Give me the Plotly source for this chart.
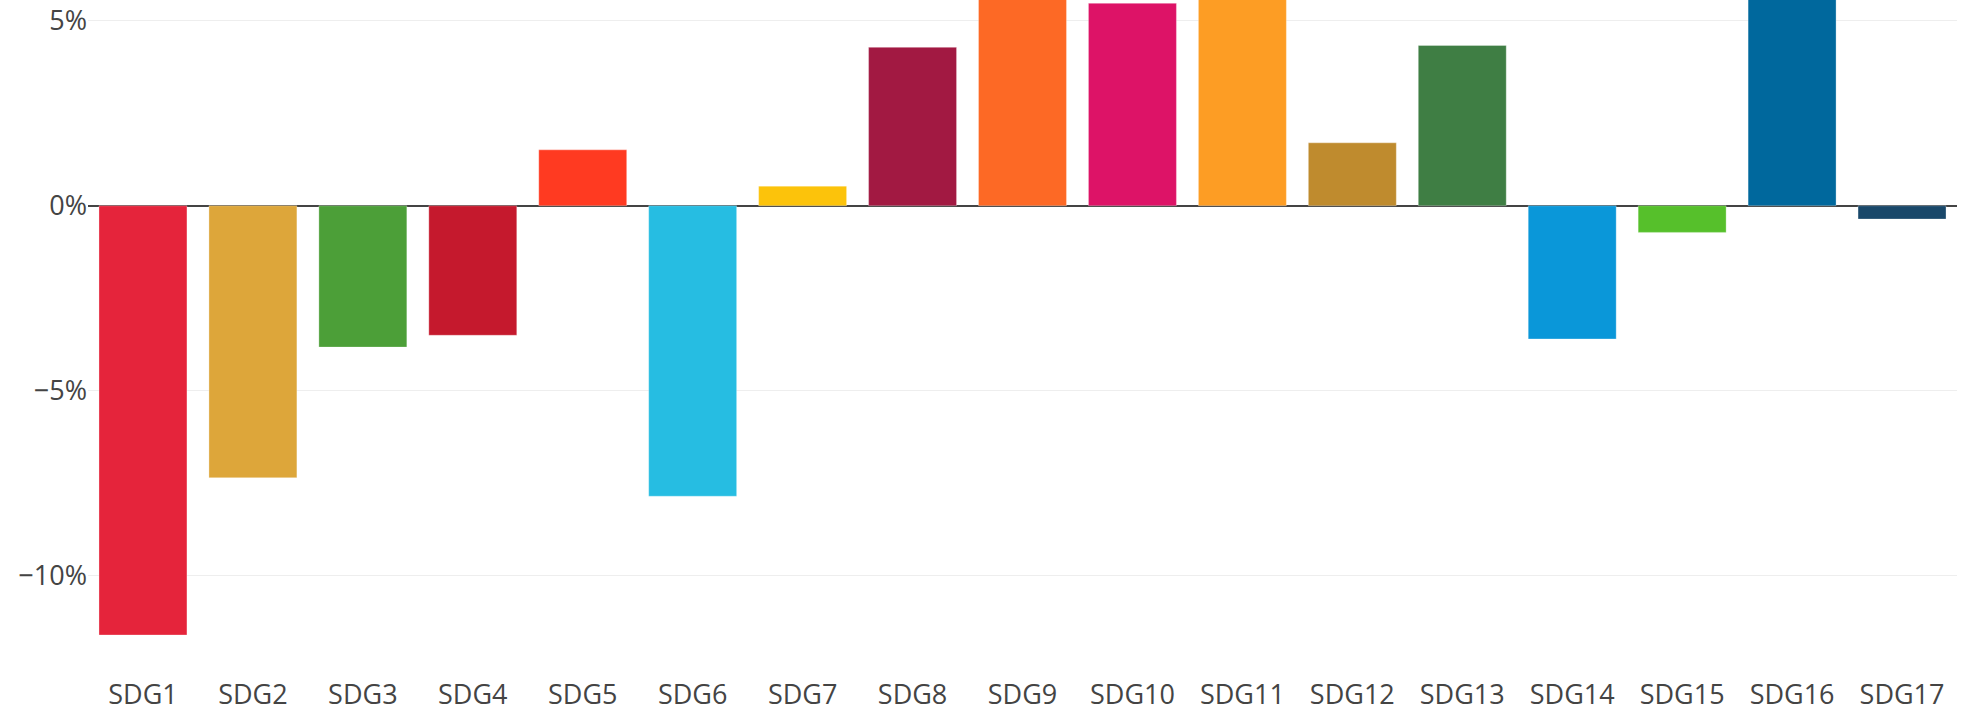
import plotly.graph_objects as go

categories = ["SDG1", "SDG2", "SDG3", "SDG4", "SDG5", "SDG6", "SDG7", "SDG8", "SDG9",
              "SDG10", "SDG11", "SDG12", "SDG13", "SDG14", "SDG15", "SDG16", "SDG17"]
values = [-11.6, -7.35, -3.82, -3.5, 1.51, -7.85, 0.53, 4.28, 7.2,
          5.47, 6.4, 1.7, 4.33, -3.6, -0.72, 8.0, -0.36]
colors = ["#E5243B", "#DDA63A", "#4C9F38", "#C5192D", "#FF3A21", "#26BDE2", "#FCC30B",
          "#A21942", "#FD6925", "#DD1367", "#FD9D24", "#BF8B2E", "#3F7E44", "#0A97D9",
          "#56C02B", "#00689D", "#19486A"]
y_range = [-12.6, 5.56]

fig = go.Figure(go.Bar(
    x=categories, y=values,
    marker=dict(color=colors, line=dict(width=0.6, color="rgba(255,255,255,0.5)")),
    width=0.8,
    hoverinfo="x+y",
))

fig.update_layout(
    template="none",
    width=1964, height=712,
    margin=dict(l=88, r=7, t=0, b=40),
    paper_bgcolor="white", plot_bgcolor="white",
    font=dict(family="Open Sans", size=27, color="#444"),
    showlegend=False,
    bargap=0.2,
    xaxis=dict(showgrid=False, zeroline=False, showline=False, ticks="", automargin=False,
               ticklabelstandoff=4),
    yaxis=dict(range=y_range, dtick=5, ticksuffix="%", showgrid=True, gridcolor="#eee",
               gridwidth=1.3, zeroline=True, zerolinecolor="#444", zerolinewidth=2,
               showline=False, ticks="", automargin=False),
)

fig.write_html("out.html", config={"displayModeBar": False},
               post_script="document.body.style.margin='0px';document.body.style.overflow='hidden';")
